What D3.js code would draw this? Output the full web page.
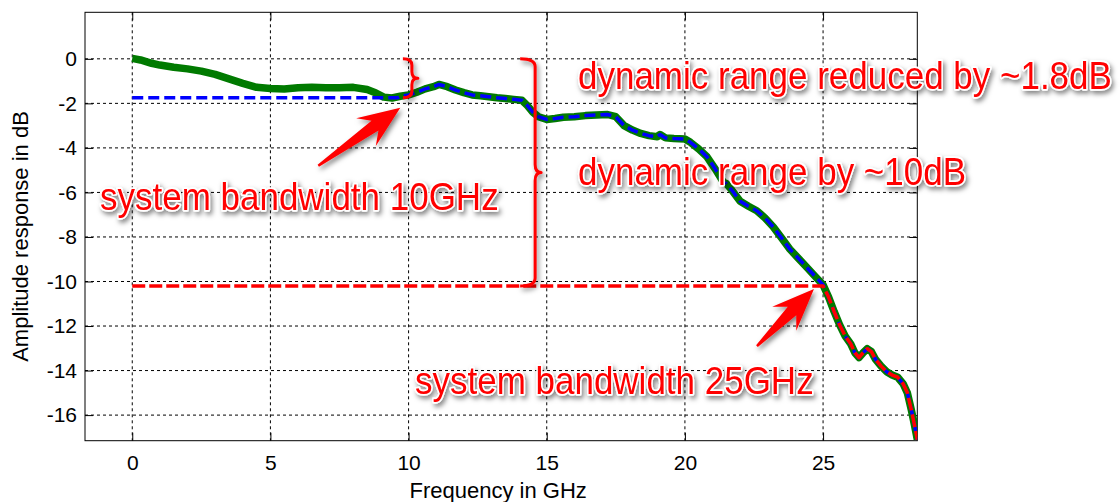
<!DOCTYPE html>
<html>
<head>
<meta charset="utf-8">
<script src="https://cdn.jsdelivr.net/npm/d3@7"></script>
<style>
  html, body { margin: 0; padding: 0; background: #fff; }
  svg { display: block; font-family: Arial, "Liberation Sans", sans-serif; }
</style>
</head>
<body>
<svg id="chart" width="1120" height="502"></svg>
<script>
// Measured amplitude response (GHz, dB)
const freqGHz = [0, 0.3, 0.7, 1.0, 1.5, 2.0, 2.5, 3.0, 3.5, 4.0, 4.5, 5.0, 5.5, 6.0, 6.5, 7.0,
  7.5, 8.0, 8.5, 8.8, 9.1, 9.4, 9.7, 10.0, 10.3, 10.6, 10.9, 11.1, 11.4, 11.7, 12.0, 12.3,
  12.6, 12.9, 13.2, 13.5, 13.8, 14.1, 14.3, 14.5, 14.7, 15.0, 15.3, 15.6, 16.0, 16.4, 16.8,
  17.2, 17.5, 17.8, 18.1, 18.4, 18.7, 19.0, 19.1, 19.3, 19.6, 20.0, 20.2, 20.5, 20.8, 21.1,
  21.4, 21.5, 21.7, 22.0, 22.3, 22.6, 22.9, 23.2, 23.5, 23.8, 24.1, 24.4, 24.7, 25.0, 25.2,
  25.4, 25.6, 25.8, 26.0, 26.15, 26.3, 26.45, 26.6, 26.75, 26.9, 27.1, 27.3, 27.5, 27.7,
  27.9, 28.05, 28.2, 28.3, 28.41];
const responseDB = [0.02, -0.05, -0.2, -0.28, -0.38, -0.45, -0.55, -0.7, -0.9, -1.1, -1.28,
  -1.33, -1.35, -1.3, -1.28, -1.3, -1.3, -1.28, -1.38, -1.52, -1.72, -1.76, -1.68, -1.62,
  -1.5, -1.35, -1.25, -1.15, -1.25, -1.4, -1.52, -1.62, -1.66, -1.7, -1.75, -1.78, -1.82,
  -1.86, -2.1, -2.4, -2.6, -2.72, -2.68, -2.62, -2.6, -2.55, -2.52, -2.5, -2.6, -3.0, -3.2,
  -3.35, -3.45, -3.5, -3.4, -3.55, -3.58, -3.6, -3.75, -4.05, -4.4, -4.95, -5.55, -5.6,
  -5.9, -6.4, -6.62, -6.82, -7.15, -7.55, -8.05, -8.55, -8.95, -9.35, -9.75, -10.15, -10.7,
  -11.35, -11.95, -12.45, -12.8, -13.2, -13.42, -13.2, -13.02, -13.15, -13.5, -13.8, -14.05,
  -14.2, -14.3, -14.6, -15.0, -15.8, -16.4, -17.1];

// Flattened levels: 10 GHz system (blue) and 25 GHz system (red)
const blueLevelDB = -1.75, blueCutGHz = 9.6;
const redLevelDB = -10.2, redCutGHz = 25;

// Axis ticks
const xTicks = [0, 5, 10, 15, 20, 25];
const yTicks = [0, -2, -4, -6, -8, -10, -12, -14, -16];

// Annotation texts
const labels = {
  reduced: "dynamic range reduced by ~1.8dB",
  range: "dynamic range by ~10dB",
  bw10: "system bandwidth 10GHz",
  bw25: "system bandwidth 25GHz"
};

const svg = d3.select("#chart");
const box = { left: 85, right: 917.3, top: 12.3, bottom: 440.7 };

const x = d3.scaleLinear().domain([-1.71, 28.41]).range([box.left, box.right]);
const y = d3.scaleLinear().domain([2.09, -17.15]).range([box.top, box.bottom]);

const defs = svg.append("defs");
defs.append("clipPath").attr("id", "plotClip")
  .append("rect").attr("x", box.left).attr("y", box.top)
  .attr("width", box.right - box.left).attr("height", box.bottom - box.top);
const shadow = defs.append("filter").attr("id", "shadow")
  .attr("x", "-20%").attr("y", "-40%").attr("width", "140%").attr("height", "180%");
shadow.append("feDropShadow").attr("dx", 2).attr("dy", 3).attr("stdDeviation", 2.5)
  .attr("flood-color", "#000").attr("flood-opacity", 0.5);

// Grid
const grid = svg.append("g").attr("stroke", "#000").attr("stroke-width", 1)
  .attr("stroke-dasharray", "3,3");
grid.selectAll(".gx").data(xTicks).join("line")
  .attr("x1", d => x(d)).attr("x2", d => x(d))
  .attr("y1", box.top).attr("y2", box.bottom);
grid.selectAll(".gy").data(yTicks).join("line")
  .attr("x1", box.left).attr("x2", box.right)
  .attr("y1", d => y(d)).attr("y2", d => y(d));

// Axes with inward ticks on all four sides
const tickLen = 8;
const xAxisB = d3.axisBottom(x).tickValues(xTicks).tickSizeInner(-tickLen).tickSizeOuter(0).tickPadding(14);
const xAxisT = d3.axisTop(x).tickValues(xTicks).tickSizeInner(-tickLen).tickSizeOuter(0).tickFormat("");
const yAxisL = d3.axisLeft(y).tickValues(yTicks).tickSizeInner(-tickLen).tickSizeOuter(0).tickPadding(8)
  .tickFormat(d => d === 0 ? "0" : "-" + Math.abs(d));
const yAxisR = d3.axisRight(y).tickValues(yTicks).tickSizeInner(-tickLen).tickSizeOuter(0).tickFormat("");

function styleAxis(g) {
  g.select(".domain").remove();
  g.selectAll("line").attr("stroke", "#000");
  g.selectAll("text").attr("font-size", 21).attr("fill", "#000")
    .attr("font-family", "Arial, 'Liberation Sans', sans-serif");
}
svg.append("g").attr("transform", `translate(0,${box.bottom})`).call(xAxisB).call(styleAxis);
svg.append("g").attr("transform", `translate(0,${box.top})`).call(xAxisT).call(styleAxis);
svg.append("g").attr("transform", `translate(${box.left},0)`).call(yAxisL).call(styleAxis);
svg.append("g").attr("transform", `translate(${box.right},0)`).call(yAxisR).call(styleAxis);

svg.append("rect").attr("x", box.left).attr("y", box.top)
  .attr("width", box.right - box.left).attr("height", box.bottom - box.top)
  .attr("fill", "none").attr("stroke", "#000").attr("stroke-width", 1);

// Axis titles
svg.append("text").attr("x", (box.left + box.right) / 2 - 3).attr("y", 498)
  .attr("text-anchor", "middle").attr("font-size", 22).text("Frequency in GHz");
svg.append("text").attr("transform", `translate(28,${(box.top + box.bottom) / 2 + 10}) rotate(-90)`)
  .attr("text-anchor", "middle").attr("font-size", 22).text("Amplitude response in dB");

// Curves
const green = freqGHz.map((f, i) => [f, responseDB[i]]);
const blue = [[0, blueLevelDB], [blueCutGHz, blueLevelDB]].concat(green.filter(p => p[0] > blueCutGHz));
const red = [[0, redLevelDB], [redCutGHz, redLevelDB]].concat(green.filter(p => p[0] > redCutGHz));
const line = d3.line().x(d => x(d[0])).y(d => y(d[1]));

const curves = svg.append("g").attr("clip-path", "url(#plotClip)").attr("fill", "none")
  .attr("stroke-linejoin", "round");
curves.append("path").datum(green).attr("d", line)
  .attr("stroke", "#007a00").attr("stroke-width", 7.5);
curves.append("path").datum(blue).attr("d", line)
  .attr("stroke", "#0000ff").attr("stroke-width", 3.5).attr("stroke-dasharray", "11,5");
curves.append("path").datum(red).attr("d", line)
  .attr("stroke", "#ff0000").attr("stroke-width", 3.5).attr("stroke-dasharray", "13,4");

// Annotations
const ann = svg.append("g").attr("filter", "url(#shadow)");

// Curly brace facing right, spanning two dB levels at a given frequency
function brace(fGHz, dbTop, dbBottom, hook, tip) {
  const sx = x(fGHz), t = y(dbTop), b = y(dbBottom), m = (t + b) / 2;
  const r = Math.min(8, (b - t) / 6);
  const p = d3.path();
  p.moveTo(sx - hook, t);
  p.quadraticCurveTo(sx, t, sx, t + r);
  p.lineTo(sx, m - r);
  p.quadraticCurveTo(sx, m, sx + tip, m);
  p.quadraticCurveTo(sx, m, sx, m + r);
  p.lineTo(sx, b - r);
  p.quadraticCurveTo(sx, b, sx - hook, b);
  ann.append("path").attr("d", p.toString()).attr("fill", "none")
    .attr("stroke", "#ff0000").attr("stroke-width", 3).attr("stroke-linejoin", "round");
}
brace(10.12, 0, blueLevelDB, 9, 6);
brace(14.58, 0, redLevelDB, 15, 6);

// Tapered block arrow from a pixel offset to a point on the chart
function arrow(fGHz, db, dxTail, dyTail) {
  const tx = x(fGHz), ty = y(db);
  const len = Math.hypot(dxTail, dyTail);
  const ux = -dxTail / len, uy = -dyTail / len;   // unit vector tail -> tip
  const nx = -uy, ny = ux;
  const pt = (along, side) => [tx - ux * along + nx * side, ty - uy * along + ny * side];
  const pts = [pt(0, 0), pt(42, 17), pt(31, 6), pt(len, 1.2), pt(len, -1.2), pt(31, -6), pt(42, -17)];
  ann.append("path").attr("d", "M" + pts.map(p => p.join(",")).join("L") + "Z")
    .attr("fill", "#ff0000");
}
arrow(9.7, -2.2, -82, 58);
arrow(24.67, -10.34, -57, 57);

// Red callout text, slightly tall-scaled
function redText(str, px, py) {
  ann.append("text").attr("transform", `translate(${px},${py}) scale(1,1.09)`)
    .attr("font-size", 35)
    .attr("fill", "#ff0000").attr("stroke", "#fff").attr("stroke-width", 3)
    .attr("paint-order", "stroke").attr("stroke-linejoin", "round").text(str);
}
redText(labels.reduced, 578, 89);
redText(labels.range, 578, 185);
redText(labels.bw10, 100, 210);
redText(labels.bw25, 415, 394);
</script>
</body>
</html>
